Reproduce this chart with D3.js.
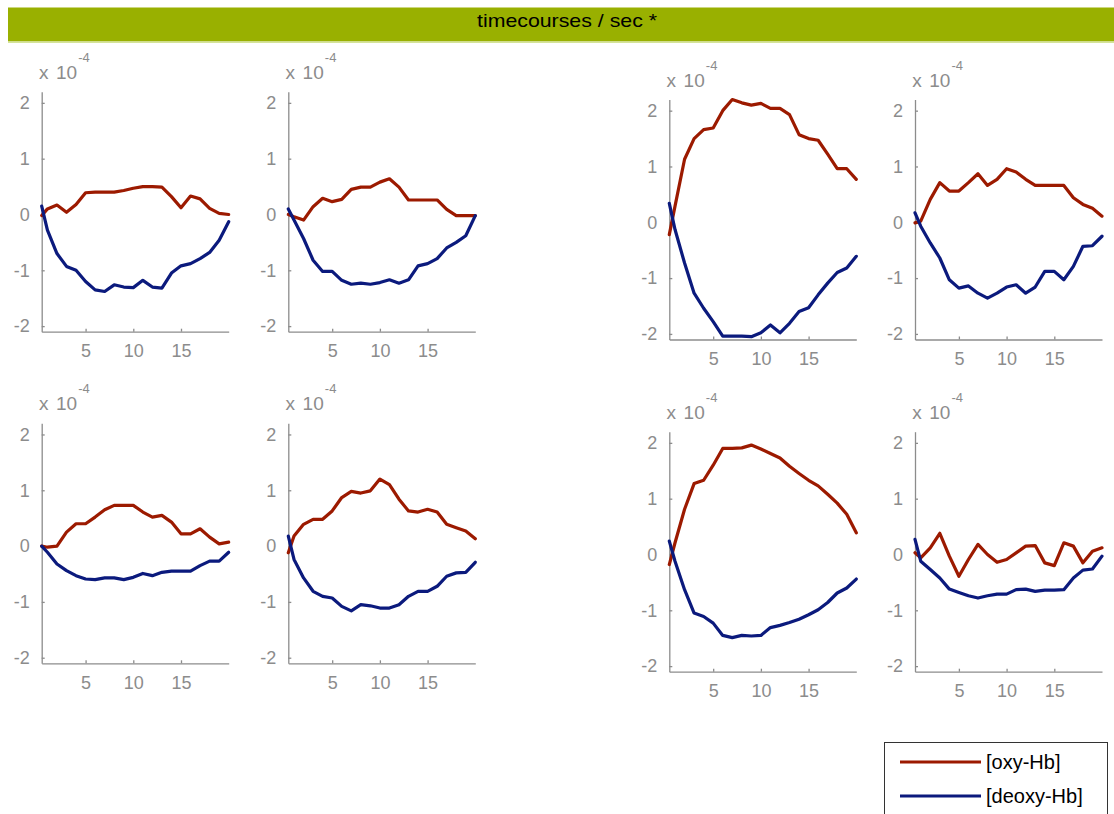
<!DOCTYPE html>
<html>
<head>
<meta charset="utf-8">
<script src="https://cdn.jsdelivr.net/npm/d3@7"></script>
<style>
  html, body { margin: 0; padding: 0; background: #ffffff; }
  svg { display: block; }
  text { font-family: "Liberation Sans", Arial, sans-serif; }
</style>
</head>
<body>
<svg id="chart" width="1114" height="814"></svg>
<script>
// Sample times (s)
const times = [0.4, 1, 2, 3, 4, 5, 6, 7, 8, 9, 10, 11, 12, 13, 14, 15, 16, 17, 18, 19, 20];

// Concentration changes (x 10^-4) per channel
const oxy1   = [-0.02, 0.10, 0.17, 0.04, 0.18, 0.39, 0.40, 0.40, 0.40, 0.43, 0.47, 0.50, 0.50, 0.49, 0.32, 0.12, 0.33, 0.28, 0.11, 0.02, 0.00];
const deoxy1 = [0.15, -0.28, -0.70, -0.93, -1.00, -1.20, -1.35, -1.38, -1.26, -1.30, -1.31, -1.18, -1.30, -1.32, -1.05, -0.92, -0.88, -0.79, -0.68, -0.46, -0.13];

const oxy2   = [0.00, -0.04, -0.10, 0.14, 0.29, 0.23, 0.27, 0.45, 0.49, 0.49, 0.58, 0.64, 0.49, 0.26, 0.26, 0.26, 0.26, 0.09, -0.02, -0.02, -0.02];
const deoxy2 = [0.10, -0.10, -0.43, -0.82, -1.02, -1.02, -1.18, -1.25, -1.23, -1.25, -1.22, -1.17, -1.23, -1.17, -0.92, -0.88, -0.79, -0.60, -0.50, -0.38, -0.02];

const oxy3   = [-0.22, 0.29, 1.13, 1.50, 1.66, 1.69, 2.00, 2.20, 2.14, 2.10, 2.13, 2.04, 2.04, 1.93, 1.57, 1.50, 1.47, 1.22, 0.96, 0.96, 0.77];
const deoxy3 = [0.34, -0.13, -0.73, -1.27, -1.54, -1.78, -2.04, -2.04, -2.04, -2.05, -1.98, -1.84, -1.98, -1.81, -1.60, -1.53, -1.30, -1.09, -0.90, -0.82, -0.61];

const oxy4   = [-0.01, 0.02, 0.41, 0.71, 0.56, 0.56, 0.71, 0.87, 0.66, 0.77, 0.96, 0.90, 0.77, 0.66, 0.66, 0.66, 0.66, 0.44, 0.32, 0.25, 0.11];
const deoxy4 = [0.17, -0.07, -0.37, -0.64, -1.03, -1.18, -1.14, -1.27, -1.36, -1.27, -1.16, -1.12, -1.27, -1.16, -0.88, -0.88, -1.03, -0.79, -0.43, -0.42, -0.25];

const oxy5   = [0.00, -0.02, 0.00, 0.25, 0.40, 0.40, 0.52, 0.65, 0.73, 0.73, 0.73, 0.61, 0.52, 0.55, 0.43, 0.22, 0.22, 0.31, 0.16, 0.04, 0.07];
const deoxy5 = [0.00, -0.11, -0.32, -0.44, -0.53, -0.59, -0.60, -0.57, -0.57, -0.60, -0.56, -0.49, -0.53, -0.47, -0.45, -0.45, -0.45, -0.35, -0.27, -0.27, -0.11];

const oxy6   = [-0.12, 0.18, 0.39, 0.48, 0.48, 0.63, 0.87, 0.98, 0.95, 0.99, 1.20, 1.10, 0.84, 0.63, 0.61, 0.66, 0.61, 0.39, 0.33, 0.27, 0.13];
const deoxy6 = [0.18, -0.24, -0.57, -0.81, -0.90, -0.93, -1.08, -1.16, -1.05, -1.07, -1.11, -1.11, -1.05, -0.90, -0.81, -0.81, -0.72, -0.54, -0.48, -0.47, -0.29];

const oxy7   = [-0.18, 0.21, 0.81, 1.27, 1.33, 1.60, 1.90, 1.90, 1.91, 1.96, 1.89, 1.81, 1.73, 1.58, 1.45, 1.33, 1.23, 1.08, 0.92, 0.72, 0.39];
const deoxy7 = [0.24, -0.12, -0.63, -1.05, -1.11, -1.23, -1.45, -1.49, -1.45, -1.46, -1.45, -1.31, -1.27, -1.22, -1.16, -1.08, -0.99, -0.86, -0.69, -0.60, -0.44];

const oxy8   = [0.03, -0.06, 0.12, 0.38, -0.03, -0.39, -0.09, 0.18, 0.00, -0.14, -0.09, 0.03, 0.15, 0.16, -0.15, -0.20, 0.21, 0.15, -0.15, 0.06, 0.12];
const deoxy8 = [0.27, -0.12, -0.27, -0.42, -0.62, -0.68, -0.74, -0.78, -0.74, -0.71, -0.71, -0.63, -0.62, -0.66, -0.64, -0.64, -0.63, -0.42, -0.28, -0.26, -0.03];

const xTicks = [5, 10, 15];
const yTicks = [-2, -1, 0, 1, 2];
const seriesNames = ["[oxy-Hb]", "[deoxy-Hb]"];
const seriesColors = ["#9c1a00", "#0b1a7d"];
const titleText = "timecourses / sec *";

const channels = [
  [oxy1, deoxy1], [oxy2, deoxy2], [oxy3, deoxy3], [oxy4, deoxy4],
  [oxy5, deoxy5], [oxy6, deoxy6], [oxy7, deoxy7], [oxy8, deoxy8]
];

// Axes boxes: left, top (px)
const boxes = [
  [41.7, 91.7], [288.3, 91.7], [669.3, 99.5], [915, 99.5],
  [41.7, 423.3], [288.3, 423.3], [669.3, 431.7], [915, 431.7]
];
const plotW = 187, plotH = 240;
const axisGray = "#8c8c8c";

const svg = d3.select("#chart");

// Title bar
svg.append("rect").attr("x", 8).attr("y", 7.5).attr("width", 1106).attr("height", 34)
  .attr("fill", "#99b000");
svg.append("rect").attr("x", 8).attr("y", 41.5).attr("width", 1106).attr("height", 1.5)
  .attr("fill", "#d4e39a");
svg.append("text").attr("x", 567).attr("y", 27).attr("text-anchor", "middle")
  .attr("font-size", 19).attr("textLength", 180).attr("lengthAdjust", "spacingAndGlyphs")
  .attr("fill", "#000").text(titleText);

const x = d3.scaleLinear().domain([0.4, 20]).range([0, plotW]);
const y = d3.scaleLinear().domain([-2.1, 2.2]).range([plotH, 0]);

const line = d3.line().x((d, i) => x(times[i])).y(d => y(d));

channels.forEach((pair, k) => {
  const [left, top] = boxes[k];
  const g = svg.append("g").attr("transform", `translate(${left},${top})`);

  const yAxis = g.append("g")
    .call(d3.axisLeft(y).tickValues(yTicks).tickSizeInner(-3).tickSizeOuter(0).tickPadding(12)
      .tickFormat(d => String(d)));
  const xAxis = g.append("g").attr("transform", `translate(0,${plotH})`)
    .call(d3.axisBottom(x).tickValues(xTicks).tickSizeInner(-3).tickSizeOuter(0).tickPadding(13));

  [yAxis, xAxis].forEach(a => {
    a.select(".domain").attr("stroke", axisGray).attr("stroke-width", 1.3);
    a.selectAll(".tick line").attr("stroke", axisGray).attr("stroke-width", 1.3);
    a.selectAll(".tick text").attr("fill", axisGray).attr("font-size", 18)
      .attr("font-family", "'Liberation Sans', Arial, sans-serif");
  });

  // Exponent label
  const ex = g.append("g").attr("fill", axisGray);
  ex.append("text").attr("x", -2.7).attr("y", -13).attr("font-size", 19).text("x");
  ex.append("text").attr("x", 14.3).attr("y", -13).attr("font-size", 19).text("10");
  ex.append("text").attr("x", 36.5).attr("y", -30).attr("font-size", 13).text("-4");

  pair.forEach((vals, s) => {
    g.append("path").datum(vals)
      .attr("fill", "none").attr("stroke", seriesColors[s]).attr("stroke-width", 3.2)
      .attr("stroke-linejoin", "round").attr("stroke-linecap", "round")
      .attr("d", line);
  });
});

// Legend
const lg = svg.append("g").attr("transform", "translate(884,742)");
lg.append("rect").attr("x", 0.5).attr("y", 0.5).attr("width", 223).attr("height", 80)
  .attr("fill", "#fff").attr("stroke", "#333").attr("stroke-width", 1);
seriesNames.forEach((name, i) => {
  const yy = 20 + i * 34;
  lg.append("line").attr("x1", 16).attr("x2", 97).attr("y1", yy).attr("y2", yy)
    .attr("stroke", seriesColors[i]).attr("stroke-width", 3);
  lg.append("text").attr("x", 102).attr("y", yy + 7).attr("font-size", 20).attr("fill", "#000")
    .text(name);
});
</script>
</body>
</html>
